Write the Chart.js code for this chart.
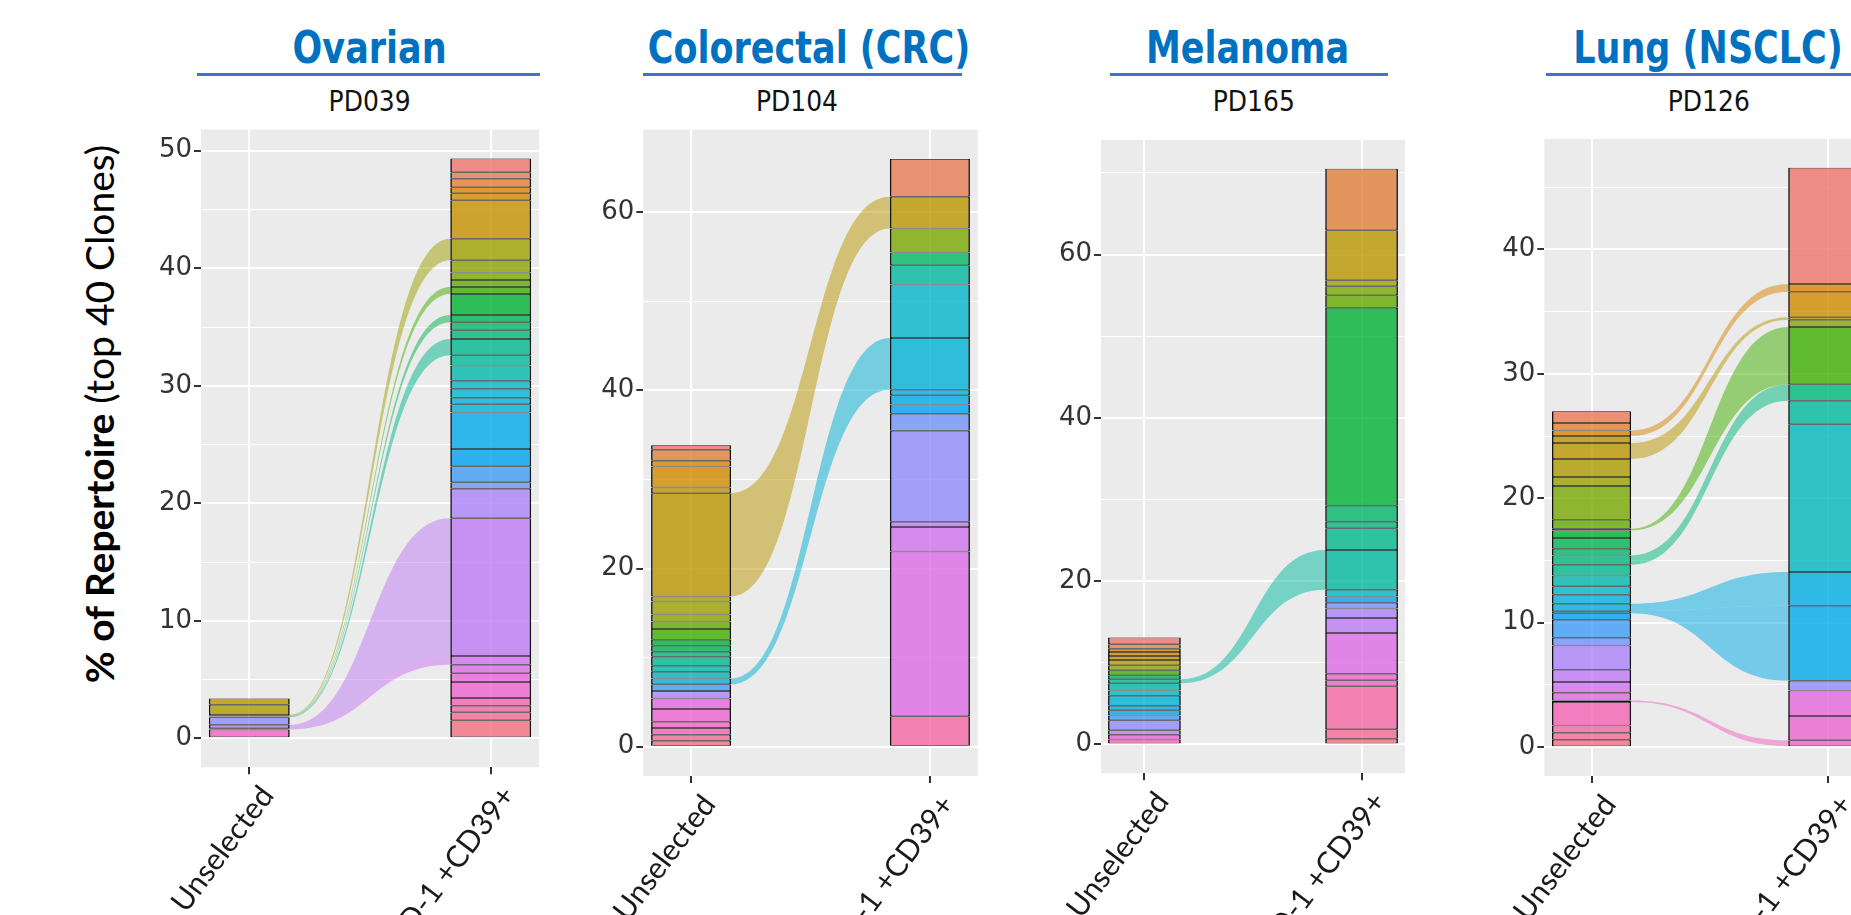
<html>
<head>
    <script src="https://cdn.jsdelivr.net/npm/chart.js"></script>
    <style>
        body { margin: 0; width: 1851px; height: 915px; overflow: hidden; background: #fff; position: relative; }
        canvas { position: absolute; top: 0; }
        .title { position: absolute; top: 31px; height: 35px; font: bold 35px 'DejaVu Sans'; line-height: 35px; color: #0070c0; white-space: nowrap; transform: translateX(-50%) scaleY(1.25); }
        .rule { position: absolute; top: 73px; height: 3px; background: #4472c4; }
        .patient { position: absolute; top: 89px; height: 25px; font: 25px 'DejaVu Sans'; line-height: 25px; color: #111; white-space: nowrap; transform: translateX(-50%) scaleY(1.12); }
        .ytitle { position: absolute; left: 99px; top: 414px; font: 39px Lato; color: #000; white-space: nowrap; transform: translate(-50%, -50%) rotate(-90deg); }
    </style>
</head>
<body>
    <div class="ytitle"><b>% of Repertoire</b> (top 40 Clones)</div>
    <script>
        // x categories, panel titles
        const categories = ['Unselected', 'PD-1 +CD39+'];
        const cancerTypes = ['Ovarian', 'Colorectal (CRC)', 'Melanoma', 'Lung (NSCLC)'];
        const patientIds = ['PD039', 'PD104', 'PD165', 'PD126'];

        // % of repertoire per clone, bottom of the stack first (0 = clone not in that sample)
        const ovarianUnselected = [0, 0, 0, 0, 0.75, 0, 0, 0, 0.10, 0.30, 0, 0.65, 0, 0, 0, 0, 0, 0, 0, 0, 0, 0, 0.04, 0, 0, 0.04, 0, 0.04, 0, 0, 0, 0.06, 0.87, 0.54, 0, 0, 0, 0, 0, 0];
        const ovarianPD1 = [1.53, 0.68, 0.56, 0.65, 0, 1.37, 0.75, 0.71, 0.75, 11.73, 2.51, 0, 0.55, 1.37, 1.46, 3.10, 0.71, 0.56, 0.75, 0.68, 1.30, 0.88, 1.37, 0.75, 0.68, 0.62, 1.79, 0.59, 0.59, 0.65, 1.04, 1.82, 0, 0, 3.29, 0.59, 0.52, 0.72, 0.55, 1.17];

        const crcUnselected = [0.67, 0.68, 0, 0.74, 0.72, 1.42, 1.19, 0, 0, 0, 0.83, 0, 0, 0.75, 0, 0, 0, 0.67, 0, 0.75, 0.67, 0, 1.01, 0.56, 0, 0.68, 0.67, 1.20, 0.86, 0, 0.78, 1.46, 0.56, 11.60, 0.64, 2.35, 0.64, 1.23, 0, 0.53];
        const crcPD1 = [0, 0, 3.43, 0, 0, 0, 0, 18.50, 2.73, 0.61, 0, 10.20, 1.91, 0, 1.05, 1.04, 0.61, 5.81, 6.00, 0, 0, 2.17, 0, 0, 1.43, 0, 0, 0, 0, 2.69, 0, 0, 0, 3.56, 0, 0, 0, 0, 4.26, 0];

        const melanomaUnselected = [0, 0, 0, 0.61, 0, 0, 0.57, 0, 0.56, 0, 0, 1.22, 0, 0.57, 0, 0.64, 0.57, 1.22, 0, 0.65, 0.89, 0.48, 0, 0, 0, 0.49, 0, 0.61, 0, 0, 0.61, 0, 0.65, 0, 0.48, 0.49, 0.40, 0, 0.57, 0.81];
        const melanomaPD1 = [0.69, 1.16, 5.27, 0, 0.74, 0.79, 0, 4.99, 0, 1.85, 1.15, 0, 0.70, 0, 0.78, 0, 0, 0, 0.83, 0, 0, 4.86, 2.68, 0.79, 1.94, 0, 24.27, 0, 1.52, 1.11, 0, 0.74, 0, 6.11, 0, 0, 0, 7.53, 0, 0];

        const lungUnselected = [0.59, 0.56, 0.59, 1.88, 0.13, 0, 0, 0.62, 0.86, 0.99, 1.95, 0, 0.62, 1.45, 0.53, 0.16, 0.59, 0.73, 0.69, 0, 0.86, 0, 0.86, 0.75, 0.54, 0.85, 0.62, 0.13, 0.73, 2.70, 0, 0.73, 1.45, 1.28, 0.56, 0, 0.46, 0.59, 0.94, 0];
        const lungPD1 = [0, 0, 0, 0, 0.55, 1.95, 2.05, 0, 0, 0, 0, 0.79, 0, 0, 0, 6.02, 2.71, 0, 0, 11.88, 0, 1.89, 0, 1.32, 0, 0, 0, 4.61, 0, 0, 0.58, 0, 0, 0.21, 0, 2.05, 0.61, 0, 0, 9.34];

        // y tick labels
        const ovarianTicks = [0, 10, 20, 30, 40, 50];
        const crcTicks = [0, 20, 40, 60];
        const melanomaTicks = [0, 20, 40, 60];
        const lungTicks = [0, 10, 20, 30, 40];

        // canvas placement (px) of each panel
        const panels = [
            { unselected: ovarianUnselected, pd1: ovarianPD1, ticks: ovarianTicks, left: 0, width: 560, yWidth: 201, right: 21, top: 129.5, xHeight: 147.7, titleX: 369.6, ruleX: 197, ruleW: 343, idX: 369.6 },
            { unselected: crcUnselected, pd1: crcPD1, ticks: crcTicks, left: 560, width: 440, yWidth: 83.3, right: 22.3, top: 129.5, xHeight: 138.9, titleX: 809, ruleX: 643, ruleW: 319, idX: 797 },
            { unselected: melanomaUnselected, pd1: melanomaPD1, ticks: melanomaTicks, left: 1000, width: 440, yWidth: 101, right: 35, top: 140, xHeight: 141.8, titleX: 1247.5, ruleX: 1110, ruleW: 278, idX: 1253.8 },
            { unselected: lungUnselected, pd1: lungPD1, ticks: lungTicks, left: 1440, width: 460, yWidth: 104.3, right: 25, top: 138.9, xHeight: 138.9, titleX: 1708, ruleX: 1546, ruleW: 330, idX: 1708.8 }
        ];

        // ggplot default hue palette (hcl)
        function hcl(h, c, l, a) {
            const hr = h * Math.PI / 180;
            const U = c * Math.cos(hr), V = c * Math.sin(hr);
            const Xn = 95.047, Yn = 100, Zn = 108.883;
            const un = 4 * Xn / (Xn + 15 * Yn + 3 * Zn), vn = 9 * Yn / (Xn + 15 * Yn + 3 * Zn);
            const Y = Yn * Math.pow((l + 16) / 116, 3);
            const up = U / (13 * l) + un, vp = V / (13 * l) + vn;
            const X = Y * 9 * up / (4 * vp);
            const Z = Y * (12 - 3 * up - 20 * vp) / (4 * vp);
            const x = X / 100, y = Y / 100, z = Z / 100;
            const r = 3.2404542 * x - 1.5371385 * y - 0.4985314 * z;
            const g = -0.9692660 * x + 1.8760108 * y + 0.0415560 * z;
            const b = 0.0556434 * x - 0.2040259 * y + 1.0572252 * z;
            const gam = v => {
                v = v <= 0.0031308 ? 12.92 * v : 1.055 * Math.pow(v, 1 / 2.4) - 0.055;
                return Math.round(255 * Math.min(1, Math.max(0, v)));
            };
            return `rgba(${gam(r)},${gam(g)},${gam(b)},${a})`;
        }
        const hueColor = (i, n, a) => hcl(15 + 360 * (n - 1 - i) / n, 92, 63, a);

        // grey panel background
        const panelBg = {
            id: 'panelBg',
            beforeDraw(chart) {
                const { ctx, chartArea: a } = chart;
                ctx.save();
                ctx.fillStyle = '#ebebeb';
                ctx.fillRect(a.left, a.top, a.right - a.left, a.bottom - a.top);
                ctx.restore();
            }
        };

        // alluvial ribbons between the two stacked bars of the same clone
        const flows = {
            id: 'flows',
            beforeDatasetsDraw(chart) {
                const ctx = chart.ctx;
                ctx.save();
                chart.data.datasets.forEach((ds, i) => {
                    if (ds.data[0].y == null || ds.data[1].y == null) return;
                    const [a, b] = chart.getDatasetMeta(i).data;
                    const x0 = a.x + a.width / 2, x1 = b.x - b.width / 2, xm = (x0 + x1) / 2;
                    ctx.beginPath();
                    ctx.moveTo(x0, a.y);
                    ctx.bezierCurveTo(xm, a.y, xm, b.y, x1, b.y);
                    ctx.lineTo(x1, b.base);
                    ctx.bezierCurveTo(xm, b.base, xm, a.base, x0, a.base);
                    ctx.closePath();
                    ctx.fillStyle = ds.flowColor;
                    ctx.fill();
                });
                ctx.restore();
            }
        };

        function addText(cls, text, x, width) {
            const d = document.createElement('div');
            d.className = cls;
            d.textContent = text;
            d.style.left = x + 'px';
            if (width) d.style.width = width + 'px';
            document.body.appendChild(d);
        }

        function makeChart(p, k) {
            addText('title', cancerTypes[k], p.titleX);
            addText('rule', '', p.ruleX, p.ruleW);
            addText('patient', patientIds[k], p.idX);

            const canvas = document.createElement('canvas');
            canvas.width = p.width;
            canvas.height = 915;
            canvas.style.left = p.left + 'px';
            document.body.appendChild(canvas);

            const n = p.unselected.length;
            const sum = arr => arr.reduce((s, v) => s + v, 0);
            const yTop = Math.max(sum(p.unselected), sum(p.pd1));
            const yMin = -0.05 * yTop, yMax = 1.05 * yTop;
            const half = (p.ticks[1] - p.ticks[0]) / 2;
            const gridValues = [];
            for (let v = p.ticks[0] - half; v <= yMax; v += half) {
                if (v >= yMin) gridValues.push(v);
            }
            const isMajor = v => p.ticks.includes(v);

            const datasets = p.unselected.map((u, i) => ({
                label: 'clone ' + (i + 1),
                data: [{ x: 1, y: u || null }, { x: 2, y: p.pd1[i] || null }],
                backgroundColor: hueColor(i, n, 0.8),
                flowColor: hueColor(i, n, 0.5),
                borderColor: '#111',
                borderWidth: { top: 0.75, bottom: 0.75, left: 1.6, right: 1.6 },
                borderSkipped: false,
                barPercentage: 0.335,
                categoryPercentage: 1
            }));

            new Chart(canvas, {
                type: 'bar',
                data: { datasets },
                options: {
                    responsive: false,
                    animation: false,
                    devicePixelRatio: 1,
                    layout: { autoPadding: false, padding: { left: 0, right: p.right, top: p.top, bottom: 0 } },
                    plugins: { legend: { display: false }, tooltip: { enabled: false } },
                    scales: {
                        x: {
                            type: 'linear', stacked: true, min: 0.8, max: 2.2, offset: false,
                            afterBuildTicks: s => { s.ticks = categories.map((c, i) => ({ value: i + 1 })); },
                            afterFit: s => { s.height = p.xHeight; },
                            ticks: {
                                callback: v => categories[v - 1],
                                minRotation: 53, maxRotation: 53, autoSkip: false,
                                labelOffset: 18,
                                font: { family: 'Lato', size: 30 }, color: '#1a1a1a', padding: 5
                            },
                            grid: { offset: false, color: '#fff', lineWidth: 2, tickColor: '#333', tickLength: 7 },
                            border: { display: false }
                        },
                        y: {
                            type: 'linear', stacked: true, min: yMin, max: yMax,
                            afterBuildTicks: s => { s.ticks = gridValues.map(v => ({ value: v })); },
                            afterFit: s => { s.width = p.yWidth; },
                            ticks: {
                                callback: v => isMajor(v) ? v : '',
                                autoSkip: false,
                                font: { family: 'DejaVu Sans', size: 26 }, color: '#333', padding: 2
                            },
                            grid: {
                                color: '#fff',
                                lineWidth: c => isMajor(c.tick.value) ? 2 : 1,
                                tickColor: c => isMajor(c.tick.value) ? '#333' : 'rgba(0,0,0,0)',
                                tickLength: 7
                            },
                            border: { display: false }
                        }
                    }
                },
                plugins: [panelBg, flows]
            });
        }

        panels.forEach(makeChart);
    </script>
</body>
</html>
